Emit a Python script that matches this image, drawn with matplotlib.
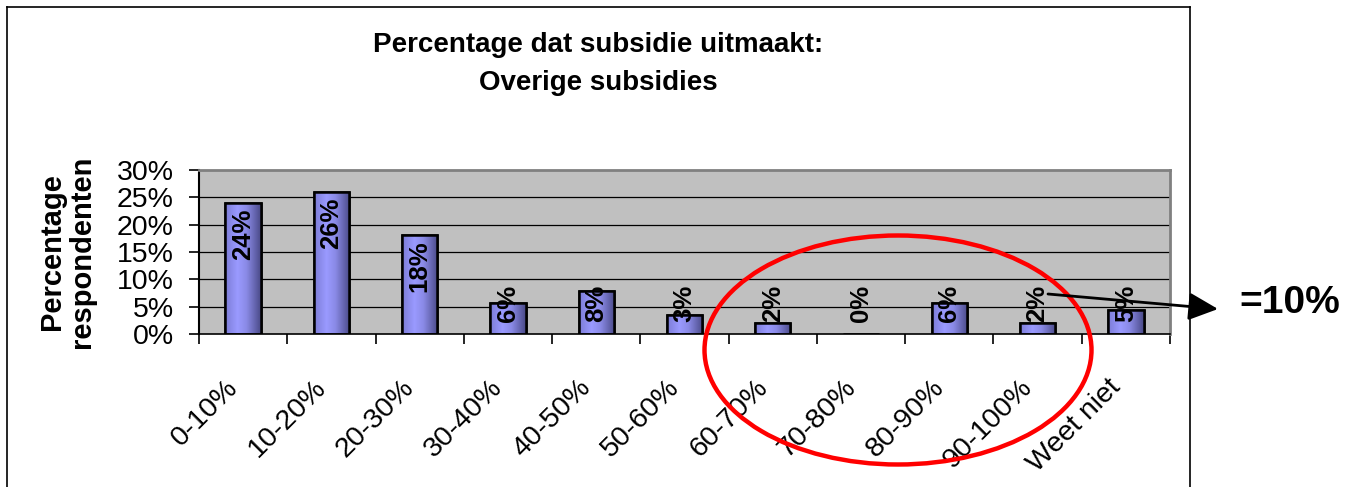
import numpy as np
import matplotlib
matplotlib.use('Agg')
import matplotlib.pyplot as plt
from matplotlib.colors import LinearSegmentedColormap
from matplotlib.patches import Ellipse, FancyArrowPatch
from matplotlib.lines import Line2D

plt.rcParams['font.family'] = ['Liberation Sans', 'DejaVu Sans']

# data
categories = ['0-10%', '10-20%', '20-30%', '30-40%', '40-50%', '50-60%',
              '60-70%', '70-80%', '80-90%', '90-100%', 'Weet niet']
values = [23.9, 26.0, 18.1, 5.6, 7.9, 3.4, 2.1, 0.0, 5.6, 2.1, 4.4]
value_labels = ['24%', '26%', '18%', '6%', '8%', '3%', '2%', '0%', '6%', '2%', '5%']
y_ticks = [0, 5, 10, 15, 20, 25, 30]

W, H = 1345, 487
fig = plt.figure(figsize=(W / 100, H / 100), dpi=100)
ax = fig.add_axes([199 / W, 1 - 334 / H, (1170 - 199) / W, (334 - 170) / H])

ax.set_facecolor('#C0C0C0')
x = np.arange(len(categories))

# gridlines
for y in y_ticks[1:-1]:
    ax.axhline(y, color='black', lw=0.9, zorder=1)

# bars with horizontal gradient like Excel
bar_cmap = LinearSegmentedColormap.from_list(
    'bar', [(0, '#7C7CD6'), (0.35, '#9A9AFF'), (0.6, '#8A8AE6'), (1, '#4A4A88')])
grad = np.linspace(0, 1, 256).reshape(1, -1)
bars = ax.bar(x, values, width=0.4, color='#9999FF', edgecolor='black',
              linewidth=1.8, zorder=2)
for b in bars:
    if b.get_height() <= 0:
        continue
    im = ax.imshow(grad, cmap=bar_cmap, aspect='auto', zorder=2.5,
                   extent=[b.get_x(), b.get_x() + b.get_width(), 0, b.get_height()])
    im.set_clip_path(b)
    ax.bar(b.get_x() + b.get_width() / 2, b.get_height(), width=b.get_width(),
           facecolor='none', edgecolor='black', linewidth=1.8, zorder=3)
ax.set_xlim(-0.5, len(categories) - 0.5)
ax.set_ylim(0, 30)

# value labels
for xi, v, lab in zip(x, values, value_labels):
    if v >= 10:
        ax.annotate(lab, (xi, v), xytext=(0, -4), textcoords='offset points',
                    rotation=90, ha='center', va='top', fontsize=18.5,
                    fontweight='bold', zorder=4)
    else:
        ax.annotate(lab, (xi, 0), xytext=(0, 8.6), textcoords='offset points',
                    rotation=90, ha='center', va='bottom', fontsize=18.5,
                    fontweight='bold', zorder=4)

# axes styling
for s in ['top', 'right']:
    ax.spines[s].set_color('#808080')
    ax.spines[s].set_linewidth(2)
ax.spines['left'].set_color('black')
ax.spines['left'].set_linewidth(1.5)
ax.spines['bottom'].set_color('black')
ax.spines['bottom'].set_linewidth(1.2)

ax.set_yticks(y_ticks)
ax.set_yticklabels([f'{t}%' for t in y_ticks], fontsize=20.5)
ax.tick_params(axis='y', direction='out', length=7, width=1.2, pad=11)

ax.set_xticks(x)
ax.set_xticklabels(categories, fontsize=20.5, rotation=45, ha='right',
                   rotation_mode='default')
ax.tick_params(axis='x', which='major', length=0, pad=29)
ax.set_xticks(np.arange(len(categories) + 1) - 0.5, minor=True)
ax.tick_params(axis='x', which='minor', direction='out', length=7, width=1.2)

ax.set_ylabel('Percentage\nrespondenten', fontsize=21, fontweight='bold',
              linespacing=1.1, labelpad=15)

fig.text(598 / W, 1 - 64 / H, 'Percentage dat subsidie uitmaakt:\nOverige subsidies',
         ha='center', va='center', fontsize=20, fontweight='bold',
         linespacing=1.6)

# chart border
fig.add_artist(Line2D([7 / W, 7 / W], [0, 1 - 7 / H], color='black', lw=1.2,
                      transform=fig.transFigure))
fig.add_artist(Line2D([7 / W, 1190 / W], [1 - 7 / H, 1 - 7 / H], color='black',
                      lw=1.2, transform=fig.transFigure))
fig.add_artist(Line2D([1190 / W, 1190 / W], [0, 1 - 7 / H], color='black', lw=1.2,
                      transform=fig.transFigure))

# red ellipse annotation
fig.add_artist(Ellipse((898 / W, 1 - 350 / H), 387 / W, 229 / H,
                       transform=fig.transFigure, fill=False,
                       edgecolor='#FF0000', linewidth=3.2, zorder=10))

# arrow and total
fig.add_artist(FancyArrowPatch((1048 / W, 1 - 294 / H), (1218 / W, 1 - 309 / H),
                               transform=fig.transFigure,
                               arrowstyle='-|>,head_length=18,head_width=8.5',
                               mutation_scale=1, color='black', lw=2,
                               shrinkA=0, shrinkB=0, zorder=11))
fig.text(1290 / W, 1 - 303 / H, '=10%', ha='center', va='center',
         fontsize=28, fontweight='bold')

plt.savefig('out.png', dpi=100)
plt.close()
